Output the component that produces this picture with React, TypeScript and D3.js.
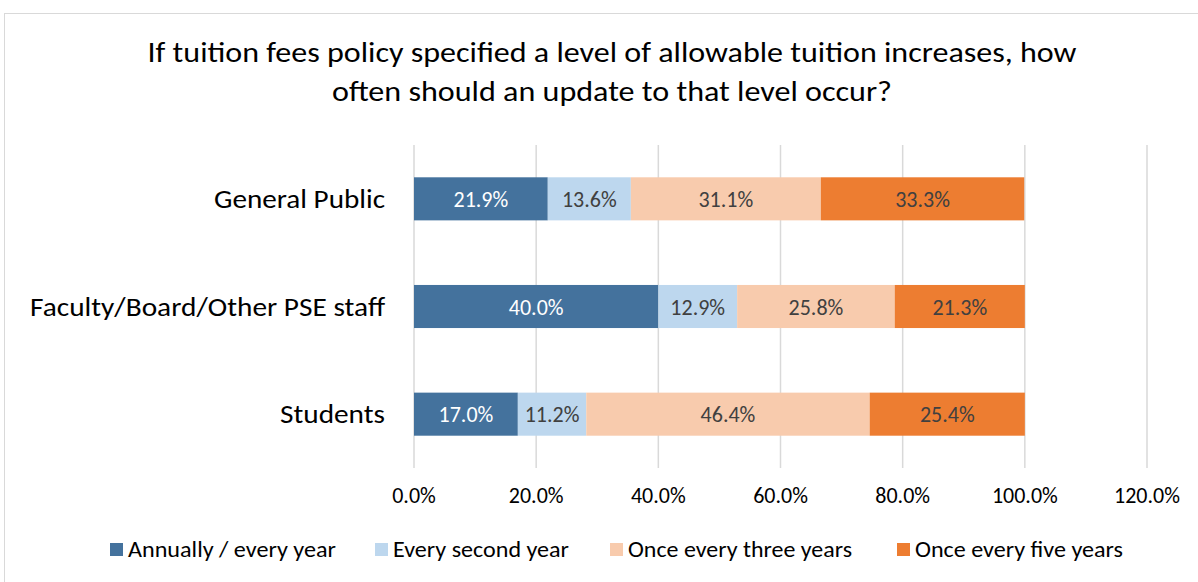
import React from "react";
import * as d3 from "d3";

const categories = ["General Public", "Faculty/Board/Other PSE staff", "Students"];
const seriesNames = ["Annually / every year", "Every second year", "Once every three years", "Once every five years"];
const annually = [21.9, 40.0, 17.0];
const everySecond = [13.6, 12.9, 11.2];
const everyThree = [31.1, 25.8, 46.4];
const everyFive = [33.3, 21.3, 25.4];
const xTicks = [0, 20, 40, 60, 80, 100, 120];
const titleLines = [
  "If tuition fees policy specified a level of allowable tuition increases, how",
  "often should an update to that level occur?",
];

const colors = ["#44729D", "#BDD7EE", "#F8CBAD", "#ED7D31"];
const labelColors = ["#FFFFFF", "#404040", "#404040", "#404040"];
const FONT = "Carlito, Calibri, Lato, sans-serif";

export default function App() {
  const W = 1198, H = 582;
  const plot = { left: 414, right: 1147, top: 145, bottom: 468 };
  const x = d3.scaleLinear().domain([0, 120]).range([plot.left, plot.right]);
  const y = d3.scaleBand().domain(categories).range([plot.top, plot.bottom]).paddingInner(0.6).paddingOuter(0.3);
  const series = [annually, everySecond, everyThree, everyFive];
  const rows = categories.map((c, i) => {
    const obj: any = { cat: c };
    seriesNames.forEach((s, k) => (obj[s] = series[k][i]));
    return obj;
  });
  const stacked = d3.stack().keys(seriesNames)(rows);
  const legendX = [110, 375, 610, 897];
  const titleWidths = [929, 560];
  const catWidths = [171, 355, 105];
  const legendWidths = [208, 176, 224, 208];

  return (
    <svg width={W} height={H} style={{ position: "absolute", left: 0, top: 0, background: "#fff" }} fontFamily={FONT}>
      <rect x={4.5} y={13.5} width={W} height={H} fill="#fff" stroke="#D9D9D9" strokeWidth={1} />
      {titleLines.map((t, i) => (
        <text key={i} x={612} y={62 + i * 39} textAnchor="middle" fontSize={29.5} fill="#000"
          textLength={titleWidths[i]} lengthAdjust="spacingAndGlyphs">{t}</text>
      ))}
      {xTicks.map((t) => (
        <g key={t}>
          <line x1={x(t)} x2={x(t)} y1={plot.top} y2={plot.bottom} stroke="#D9D9D9" strokeWidth={1.5} />
          <text x={x(t)} y={503} textAnchor="middle" fontSize={22} fill="#000">{t.toFixed(1)}%</text>
        </g>
      ))}
      {stacked.map((layer, k) => (
        <g key={layer.key}>
          {layer.map((d: any, i: number) => {
            const x0 = x(d[0]), x1 = x(d[1]);
            const yy = y(categories[i])!;
            return (
              <g key={i}>
                <rect x={x0} y={yy} width={x1 - x0} height={y.bandwidth()} fill={colors[k]} />
                <text x={(x0 + x1) / 2} y={yy + y.bandwidth() / 2 + 8} textAnchor="middle" fontSize={22} fill={labelColors[k]}>
                  {series[k][i].toFixed(1)}%
                </text>
              </g>
            );
          })}
        </g>
      ))}
      {categories.map((c, i) => (
        <text key={c} x={385} y={y(c)! + y.bandwidth() / 2 + 9} textAnchor="end" fontSize={27.5} fill="#000"
          textLength={catWidths[i]} lengthAdjust="spacingAndGlyphs">{c}</text>
      ))}
      {seriesNames.map((s, k) => (
        <g key={s}>
          <rect x={legendX[k]} y={543} width={13} height={13} fill={colors[k]} />
          <text x={legendX[k] + 18} y={557} fontSize={23} fill="#000"
            textLength={legendWidths[k]} lengthAdjust="spacingAndGlyphs">{s}</text>
        </g>
      ))}
    </svg>
  );
}
